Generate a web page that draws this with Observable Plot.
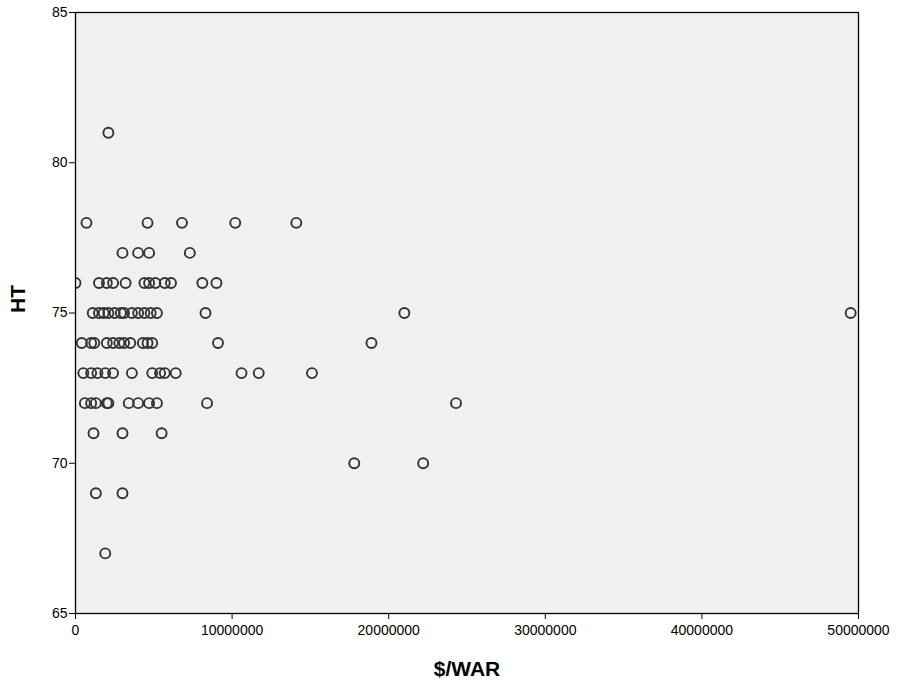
<!DOCTYPE html>
<html>
<head>
<meta charset="utf-8">
<script src="https://cdn.jsdelivr.net/npm/d3@7"></script>
<script src="https://cdn.jsdelivr.net/npm/@observablehq/plot@0.6"></script>
<style>
  html, body { margin: 0; padding: 0; background: #fff; }
  svg { display: block; }
</style>
</head>
<body>
<div id="chart"></div>
<script>
// $/WAR values (millions) grouped by height HT
const ht81 = [2.1];
const ht78 = [0.7, 4.6, 6.8, 10.2, 14.1];
const ht77 = [3.0, 4.0, 4.7, 7.3];
const ht76 = [0, 1.5, 2.0, 2.4, 3.2, 4.4, 4.7, 5.1, 5.7, 6.1, 8.1, 9.0];
const ht75 = [1.1, 1.5, 1.8, 2.1, 2.5, 2.9, 3.1, 3.6, 4.0, 4.4, 4.8, 5.2, 8.3, 21.0, 49.5];
const ht74 = [0.4, 1.0, 1.2, 2.0, 2.4, 2.8, 3.1, 3.5, 4.3, 4.6, 4.9, 9.1, 18.9];
const ht73 = [0.5, 1.0, 1.4, 1.9, 2.4, 3.6, 4.9, 5.4, 5.7, 6.4, 10.6, 11.7, 15.1];
const ht72 = [0.6, 1.0, 1.3, 2.0, 2.1, 3.4, 4.0, 4.7, 5.2, 8.4, 24.3];
const ht71 = [1.15, 3.0, 5.5];
const ht70 = [17.8, 22.2];
const ht69 = [1.3, 3.0];
const ht67 = [1.9];

const xTicks = [0, 10000000, 20000000, 30000000, 40000000, 50000000];
const yTicks = [65, 70, 75, 80, 85];

const groups = [[81, ht81], [78, ht78], [77, ht77], [76, ht76], [75, ht75], [74, ht74],
                [73, ht73], [72, ht72], [71, ht71], [70, ht70], [69, ht69], [67, ht67]];
const data = groups.flatMap(([h, vals]) => vals.map(v => ({war: v * 1e6, ht: h})));

const chart = Plot.plot({
  width: 908,
  height: 689,
  marginLeft: 75,
  marginRight: 50,
  marginTop: 12,
  marginBottom: 76,
  style: {fontFamily: "'Liberation Sans', Arial, sans-serif", fontSize: "14px", color: "#000", background: "#fff"},
  x: {domain: [0, 50000000]},
  y: {domain: [65, 85]},
  marks: [
    Plot.frame({fill: "#f0f0f0", stroke: "none"}),
    Plot.dot(data, {x: "war", y: "ht", r: 5, stroke: "#333", strokeWidth: 1.9, fill: "none", clip: true}),
    Plot.frame({stroke: "#000", strokeWidth: 1.3}),
    Plot.axisX({ticks: xTicks, tickFormat: d3.format("d"), tickSize: 6, tickPadding: 6, label: null, fontSize: 14}),
    Plot.axisY({ticks: yTicks, tickFormat: d3.format("d"), tickSize: 6, tickPadding: 2, label: null, fontSize: 14}),
    Plot.text(["$/WAR"], {frameAnchor: "bottom", dy: 62, fontSize: 21, fontWeight: "bold"}),
    Plot.text(["HT"], {frameAnchor: "left", dx: -57, rotate: -90, fontSize: 21, fontWeight: "bold"})
  ]
});
document.getElementById("chart").appendChild(chart);
</script>
</body>
</html>
